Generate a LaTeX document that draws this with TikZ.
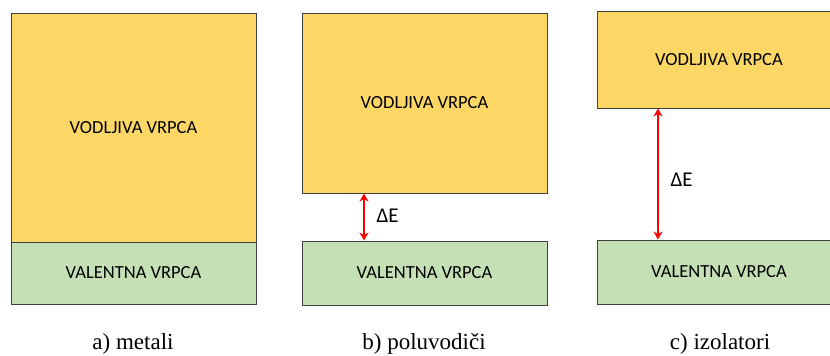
\documentclass[tikz,border=0pt]{standalone}
\usepackage{fontspec}
\setmainfont{Liberation Serif}
\newfontfamily\boxfont{Carlito}
\usetikzlibrary{arrows.meta}
\definecolor{bandyellow}{HTML}{FDD766}
\definecolor{bandgreen}{HTML}{C5E0B4}
\definecolor{bandedge}{HTML}{404040}
\tikzset{
  band/.style={draw=bandedge, line width=0.8pt, inner sep=0pt, font=\boxfont\fontsize{18.5}{20}\selectfont},
  cond/.style={band, fill=bandyellow},
  val/.style={band, fill=bandgreen},
  gap/.style={draw=red, line width=2.6pt, {Stealth[length=8pt,width=9pt]}-{Stealth[length=8pt,width=9pt]}, shorten <=0.5pt, shorten >=0.5pt},
  gaplabel/.style={font=\boxfont\fontsize{21}{24}\selectfont, anchor=west},
  caption/.style={font=\fontsize{23}{26}\selectfont}
}
\begin{document}
\begin{tikzpicture}[x=1pt,y=-1pt]
\useasboundingbox (0,0) rectangle (830,356);
\begin{scope}
\clip (0,0) rectangle (830,356);
% a) metali
\node[cond, minimum width=245pt, minimum height=229pt] (ca) at (133.5,127.5) {VODLJIVA VRPCA};
\node[val, minimum width=245pt, minimum height=62pt] (va) at (133.5,273) {VALENTNA VRPCA};
\node[caption] (la) at (133,344) {a) metali};
% b) poluvodici
\node[cond, minimum width=245pt, minimum height=180pt] (cb) at (424.5,103) {VODLJIVA VRPCA};
\node[val, minimum width=245pt, minimum height=64pt] (vb) at (424.5,273) {VALENTNA VRPCA};
\coordinate (ab1) at (364,193);
\coordinate (ab2) at (364,241);
\draw[gap] (ab1) -- (ab2);
\node[gaplabel] (eb) at (373,216) {ΔE};
\node[caption] (lb) at (424,344) {b) poluvodiči};
% c) izolatori
\node[cond, minimum width=237pt, minimum height=97pt] (cc) at (715.5,59.5) {};
\node[font=\boxfont\fontsize{18.5}{20}\selectfont] (tc) at (719,59.5) {VODLJIVA VRPCA};
\node[val, minimum width=237pt, minimum height=64pt] (vc) at (715.5,272) {};
\node[font=\boxfont\fontsize{18.5}{20}\selectfont] (tv) at (719,272) {VALENTNA VRPCA};
\coordinate (ac1) at (658,108);
\coordinate (ac2) at (658,240);
\draw[gap] (ac1) -- (ac2);
\node[gaplabel] (ec) at (667,180) {ΔE};
\node[caption] (lc) at (720,344) {c) izolatori};
\end{scope}
\end{tikzpicture}
\end{document}
